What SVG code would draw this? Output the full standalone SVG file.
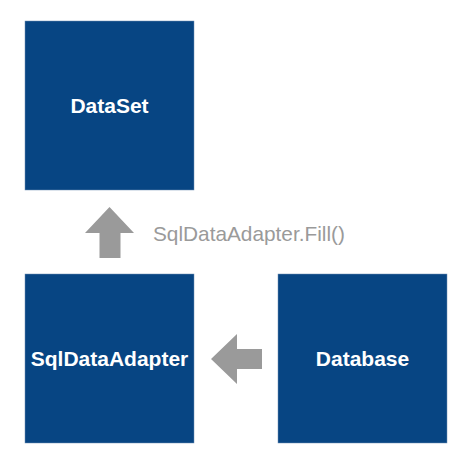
<svg xmlns="http://www.w3.org/2000/svg" width="466" height="468" viewBox="0 0 466 468">
<style>
.box{fill:#074583;stroke:#6f8fb5;stroke-width:0.5}
.lbl{font-family:"Liberation Sans",Arial,sans-serif;font-weight:bold;font-size:21px;fill:#ffffff;text-anchor:middle}
.arrow{fill:#9a9a9a}
.note{font-family:"Liberation Sans",Arial,sans-serif;font-size:20.8px;fill:#9a9a9a}
</style>
<rect width="466" height="468" fill="#ffffff"/>
<g id="connectors">
<polygon class="arrow" points="109.5,207 134,233 120.5,233 120.5,258 99.5,258 99.5,233 85,233"/>
<polygon class="arrow" points="211,359 237,334 237,349 262,349 262,369 237,369 237,384"/>
<text class="note" x="153" y="241">SqlDataAdapter.Fill()</text>
</g>
<g id="dataset">
<rect class="box" x="25" y="21" width="169" height="169"/>
<text class="lbl" x="109.5" y="113">DataSet</text>
</g>
<g id="sqldataadapter">
<rect class="box" x="25" y="274" width="169" height="169"/>
<text class="lbl" x="109.5" y="366">SqlDataAdapter</text>
</g>
<g id="database">
<rect class="box" x="278" y="274" width="169" height="169"/>
<text class="lbl" x="362.5" y="366">Database</text>
</g>
</svg>
